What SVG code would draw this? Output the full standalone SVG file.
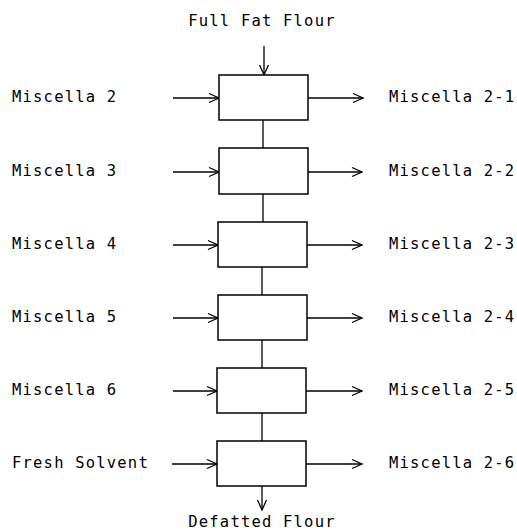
<svg xmlns="http://www.w3.org/2000/svg" width="517" height="530" viewBox="0 0 517 530">
<style>
.box{fill:#fff;stroke:#000;stroke-width:1.5}
.ln{fill:none;stroke:#000;stroke-width:1.3}
.arr{fill:none;stroke:#000;stroke-width:1.3;marker-end:url(#chev)}
text{font-family:"DejaVu Sans Mono","Liberation Mono",monospace;font-size:15.5px;letter-spacing:1.2px;fill:#000}
.mid{text-anchor:middle}
</style>
<defs>
<marker id="chev" markerUnits="userSpaceOnUse" markerWidth="12" markerHeight="10" refX="10" refY="5" orient="auto" overflow="visible">
<path d="M0,0.5 L10,5 L0,9.5" fill="none" stroke="#000" stroke-width="1.3"/>
</marker>
</defs>
<rect width="517" height="530" fill="#fff"/>
<g id="connectors">
<line class="arr" x1="264" y1="46" x2="264" y2="75"/>
<line class="ln" x1="263" y1="120" x2="263" y2="148"/>
<line class="ln" x1="263" y1="194" x2="263" y2="222"/>
<line class="ln" x1="262" y1="267" x2="262" y2="295"/>
<line class="ln" x1="262" y1="340" x2="262" y2="368"/>
<line class="ln" x1="262" y1="413" x2="262" y2="441"/>
<line class="arr" x1="262" y1="486" x2="262" y2="510"/>
<line class="arr" x1="173" y1="98" x2="219" y2="98"/>
<line class="arr" x1="173" y1="172" x2="219" y2="172"/>
<line class="arr" x1="173" y1="245" x2="218" y2="245"/>
<line class="arr" x1="173" y1="318" x2="218" y2="318"/>
<line class="arr" x1="173" y1="391" x2="217" y2="391"/>
<line class="arr" x1="172" y1="464" x2="217" y2="464"/>
<line class="arr" x1="308" y1="98" x2="363" y2="98"/>
<line class="arr" x1="308" y1="172" x2="362" y2="172"/>
<line class="arr" x1="307" y1="245" x2="362" y2="245"/>
<line class="arr" x1="307" y1="318" x2="362" y2="318"/>
<line class="arr" x1="306" y1="391" x2="362" y2="391"/>
<line class="arr" x1="306" y1="464" x2="362" y2="464"/>
</g>
<g id="stage1"><rect class="box" x="219" y="75" width="89" height="45"/></g>
<g id="stage2"><rect class="box" x="219" y="148" width="89" height="46"/></g>
<g id="stage3"><rect class="box" x="218" y="222" width="89" height="45"/></g>
<g id="stage4"><rect class="box" x="218" y="295" width="89" height="45"/></g>
<g id="stage5"><rect class="box" x="217" y="368" width="89" height="45"/></g>
<g id="stage6"><rect class="box" x="217" y="441" width="89" height="45"/></g>
<g id="full-fat-flour"><text class="mid" x="262" y="26">Full Fat Flour</text></g>
<g id="defatted-flour"><text class="mid" x="262" y="527">Defatted Flour</text></g>
<g id="in-miscella2"><text x="12" y="102">Miscella 2</text></g>
<g id="in-miscella3"><text x="12" y="176">Miscella 3</text></g>
<g id="in-miscella4"><text x="12" y="249">Miscella 4</text></g>
<g id="in-miscella5"><text x="12" y="322">Miscella 5</text></g>
<g id="in-miscella6"><text x="12" y="395">Miscella 6</text></g>
<g id="in-fresh-solvent"><text x="12" y="468">Fresh Solvent</text></g>
<g id="out-2-1"><text x="389" y="102">Miscella 2-1</text></g>
<g id="out-2-2"><text x="389" y="176">Miscella 2-2</text></g>
<g id="out-2-3"><text x="389" y="249">Miscella 2-3</text></g>
<g id="out-2-4"><text x="389" y="322">Miscella 2-4</text></g>
<g id="out-2-5"><text x="389" y="395">Miscella 2-5</text></g>
<g id="out-2-6"><text x="389" y="468">Miscella 2-6</text></g>
</svg>
